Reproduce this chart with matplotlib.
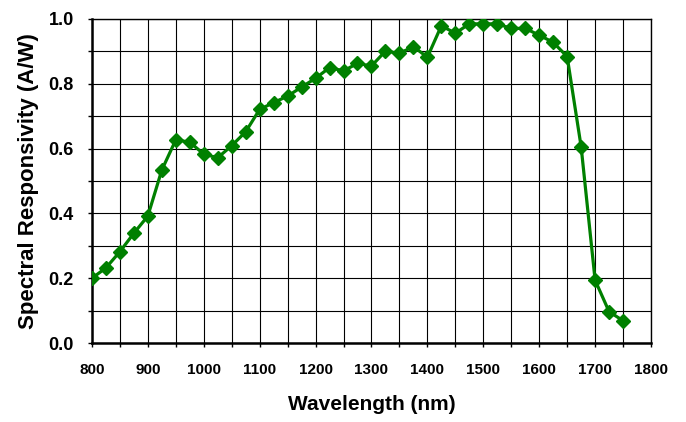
import matplotlib.pyplot as plt
import numpy as np

plt.rcParams['font.family'] = ['Liberation Sans', 'DejaVu Sans']

wavelength = [800, 825, 850, 875, 900, 925, 950, 975, 1000, 1025,
              1050, 1075, 1100, 1125, 1150, 1175, 1200, 1225, 1250, 1275,
              1300, 1325, 1350, 1375, 1400, 1425, 1450, 1475, 1500, 1525,
              1550, 1575, 1600, 1625, 1650, 1675, 1700, 1725, 1750]
responsivity = [0.200, 0.232, 0.282, 0.339, 0.392, 0.534, 0.627, 0.620, 0.583, 0.572,
                0.609, 0.652, 0.721, 0.742, 0.762, 0.790, 0.817, 0.850, 0.840, 0.863,
                0.855, 0.901, 0.894, 0.915, 0.882, 0.979, 0.956, 0.985, 0.985, 0.985,
                0.971, 0.971, 0.950, 0.928, 0.884, 0.606, 0.194, 0.097, 0.069]

fig = plt.figure(figsize=(6.86, 4.22), dpi=100)
ax = fig.add_axes([0.134, 0.187, 0.815, 0.768])

ax.plot(wavelength, responsivity, color='#008000', lw=2.3, marker='D',
        markersize=7.5, zorder=3)

ax.set_xlim(800, 1800)
ax.set_ylim(0, 1.0)
ax.set_xticks(np.arange(800, 1801, 100))
ax.set_xticks(np.arange(800, 1801, 50), minor=True)
ax.set_yticks(np.arange(0, 1.01, 0.2))
ax.set_yticks(np.arange(0, 1.01, 0.1), minor=True)
ax.set_yticklabels([f'{v:.1f}' for v in np.arange(0, 1.01, 0.2)])
ax.grid(which='both', color='black', lw=0.8)
ax.set_axisbelow(True)

for lab in ax.get_xticklabels() + ax.get_yticklabels():
    lab.set_fontweight('bold')
ax.tick_params(which='both', direction='out', length=3, width=1)
ax.tick_params(axis='x', labelsize=11, pad=11)
ax.tick_params(axis='y', labelsize=13, pad=10)

for s in ['left', 'bottom']:
    ax.spines[s].set_linewidth(1.8)
for s in ['right', 'top']:
    ax.spines[s].set_linewidth(1.0)

ax.set_xlabel('Wavelength (nm)', fontsize=15, fontweight='bold', labelpad=13)
ax.set_ylabel('Spectral Responsivity (A/W)', fontsize=16, fontweight='bold', labelpad=7)

fig.savefig('out.png', dpi=100)
